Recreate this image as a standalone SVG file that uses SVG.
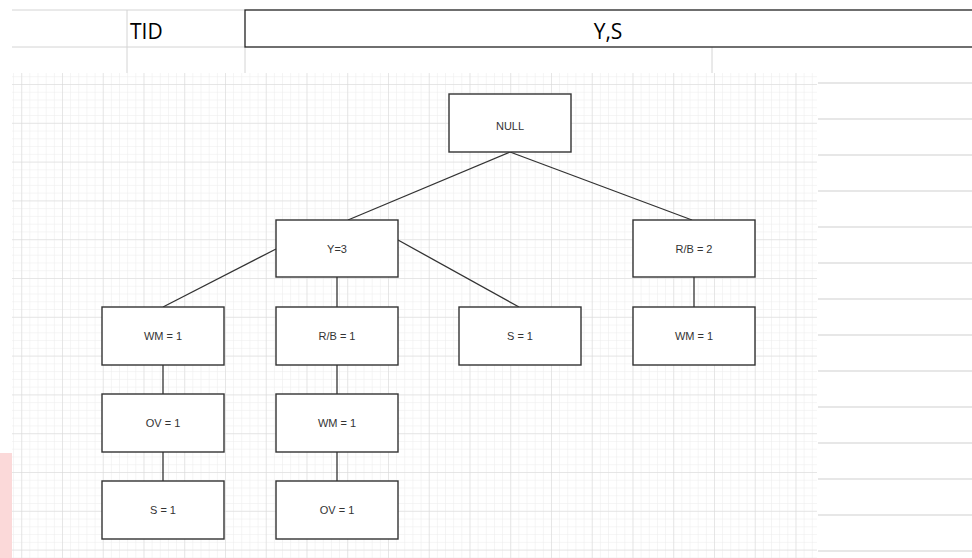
<svg xmlns="http://www.w3.org/2000/svg" width="972" height="558" viewBox="0 0 972 558">
  <defs>
    <pattern id="minor" patternUnits="userSpaceOnUse" x="62" y="84" width="8.15" height="7.76">
      <path d="M0 0H8.15M0 0V7.76" fill="none" stroke="#ececec" stroke-width="1"/>
    </pattern>
    <pattern id="major" patternUnits="userSpaceOnUse" x="62" y="84" width="40.75" height="38.8">
      <path d="M0 0H40.75M0 0V38.8" fill="none" stroke="#d8d8d8" stroke-width="1"/>
    </pattern>
    <style>
      .box { fill: #ffffff; stroke: #333333; stroke-width: 1.4; }
      .lbl { font-family: "Liberation Sans", Arial, sans-serif; font-size: 11px; fill: #333333; text-anchor: middle; dominant-baseline: central; }
      .edge { stroke: #333333; stroke-width: 1.3; fill: none; }
      .sheet { stroke: #d4d4d4; stroke-width: 1; }
      .hdr { font-family: "Open Sans", "Liberation Sans", sans-serif; font-size: 21px; font-weight: 500; fill: #000000; }
    </style>
  </defs>

  <rect width="972" height="558" fill="#ffffff"/>

  <!-- spreadsheet header rows -->
  <g id="sheet">
    <line class="sheet" x1="12" y1="10" x2="245" y2="10"/>
    <line class="sheet" x1="12" y1="47" x2="245" y2="47"/>
    <line class="sheet" x1="127" y1="10" x2="127" y2="73"/>
    <line class="sheet" x1="245" y1="47" x2="245" y2="73"/>
    <line class="sheet" x1="712" y1="47" x2="712" y2="73"/>
    <rect x="245" y="10" width="740" height="37" fill="none" stroke="#222222" stroke-width="1.3"/>
    <text class="hdr" x="130" y="39">TID</text>
    <text class="hdr" x="608" y="39" text-anchor="middle">Y,S</text>
    <!-- ruled lines to the right of the canvas -->
    <g stroke="#cfcfcf" stroke-width="1">
      <line x1="818" y1="83" x2="972" y2="83"/>
      <line x1="818" y1="119" x2="972" y2="119"/>
      <line x1="818" y1="155" x2="972" y2="155"/>
      <line x1="818" y1="191" x2="972" y2="191"/>
      <line x1="818" y1="227" x2="972" y2="227"/>
      <line x1="818" y1="263" x2="972" y2="263"/>
      <line x1="818" y1="299" x2="972" y2="299"/>
      <line x1="818" y1="335" x2="972" y2="335"/>
      <line x1="818" y1="371" x2="972" y2="371"/>
      <line x1="818" y1="407" x2="972" y2="407"/>
      <line x1="818" y1="443" x2="972" y2="443"/>
      <line x1="818" y1="479" x2="972" y2="479"/>
      <line x1="818" y1="515" x2="972" y2="515"/>
      <line x1="818" y1="551" x2="972" y2="551"/>
    </g>
  </g>

  <!-- drawing canvas grid -->
  <g id="canvas">
    <rect x="12" y="73" width="805" height="485" fill="url(#minor)"/>
    <rect x="12" y="73" width="805" height="485" fill="url(#major)"/>
    <rect x="0" y="453" width="12" height="105" fill="#fbd9d9"/>
  </g>

  <!-- connectors -->
  <g id="edges">
    <line class="edge" x1="510" y1="152" x2="348" y2="220"/>
    <line class="edge" x1="510" y1="152" x2="692" y2="220"/>
    <line class="edge" x1="276" y1="249" x2="163" y2="307"/>
    <line class="edge" x1="337" y1="277" x2="337" y2="307"/>
    <line class="edge" x1="398" y1="240" x2="519" y2="307"/>
    <line class="edge" x1="694" y1="277" x2="694" y2="307"/>
    <line class="edge" x1="163" y1="365" x2="163" y2="394"/>
    <line class="edge" x1="163" y1="452" x2="163" y2="481"/>
    <line class="edge" x1="337" y1="365" x2="337" y2="394"/>
    <line class="edge" x1="337" y1="452" x2="337" y2="481"/>
  </g>

  <g id="null"><rect class="box" x="449" y="94" width="122" height="58"/><text class="lbl" x="510" y="126">NULL</text></g>
  <g id="y3"><rect class="box" x="276" y="220" width="122" height="57"/><text class="lbl" x="337" y="249">Y=3</text></g>
  <g id="rb2"><rect class="box" x="633" y="220" width="122" height="57"/><text class="lbl" x="694" y="249">R/B = 2</text></g>
  <g id="wm1a"><rect class="box" x="102" y="307" width="122" height="58"/><text class="lbl" x="163" y="336">WM = 1</text></g>
  <g id="rb1"><rect class="box" x="276" y="307" width="122" height="58"/><text class="lbl" x="337" y="336">R/B = 1</text></g>
  <g id="s1a"><rect class="box" x="459" y="307" width="122" height="58"/><text class="lbl" x="520" y="336">S = 1</text></g>
  <g id="wm1b"><rect class="box" x="633" y="307" width="122" height="58"/><text class="lbl" x="694" y="336">WM = 1</text></g>
  <g id="ov1a"><rect class="box" x="102" y="394" width="122" height="58"/><text class="lbl" x="163" y="423">OV = 1</text></g>
  <g id="wm1c"><rect class="box" x="276" y="394" width="122" height="58"/><text class="lbl" x="337" y="423">WM = 1</text></g>
  <g id="s1b"><rect class="box" x="102" y="481" width="122" height="58"/><text class="lbl" x="163" y="510">S = 1</text></g>
  <g id="ov1b"><rect class="box" x="276" y="481" width="122" height="58"/><text class="lbl" x="337" y="510">OV = 1</text></g>
</svg>
